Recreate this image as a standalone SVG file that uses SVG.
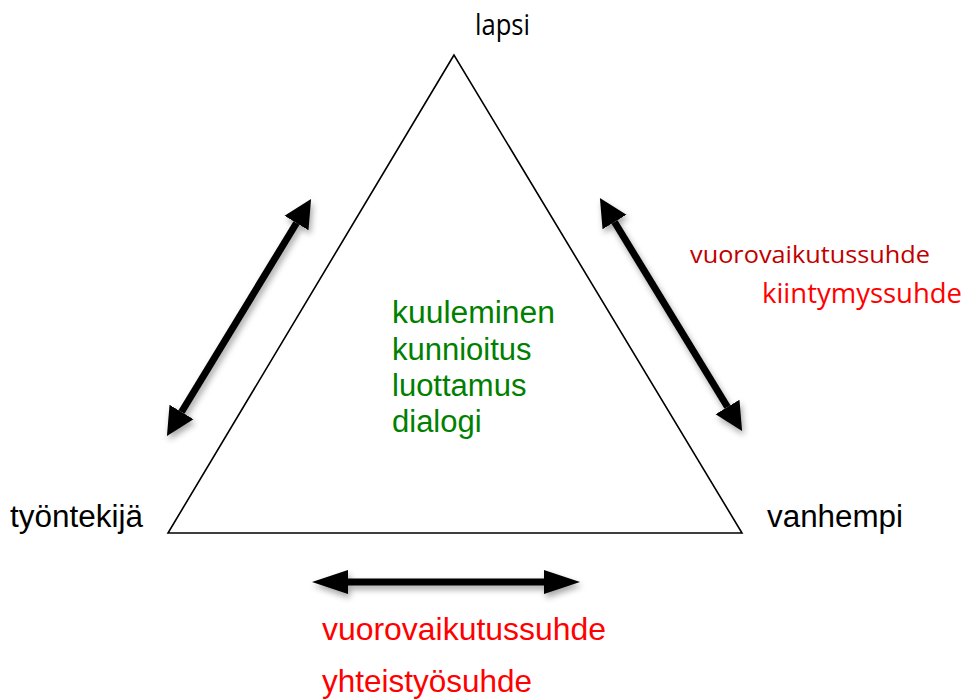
<svg xmlns="http://www.w3.org/2000/svg" width="964" height="700" viewBox="0 0 964 700">
<style>
.lbl{font-family:"Liberation Sans",Arial,sans-serif;font-size:31px;fill:#000}
.cal{font-family:"Open Sans","Liberation Sans",sans-serif}
.green{font-family:"Liberation Sans",Arial,sans-serif;font-size:31px;fill:#008000}
.red{font-family:"Liberation Sans",Arial,sans-serif;font-size:32px;fill:#ff0000}
.arr{stroke:#000;stroke-width:7;fill:none}
</style>
<defs>
<filter id="sh" x="-30%" y="-30%" width="160%" height="160%">
<feDropShadow dx="2" dy="4" stdDeviation="3" flood-color="#000" flood-opacity="0.35"/>
</filter>
<marker id="hd" markerUnits="userSpaceOnUse" markerWidth="40" markerHeight="40" viewBox="0 -20 40 40" refX="0" refY="0" orient="auto-start-reverse">
<path d="M0,-14 L28,0 L0,14 z" fill="#000"/>
</marker>
<marker id="hh" markerUnits="userSpaceOnUse" markerWidth="44" markerHeight="40" viewBox="0 -20 44 40" refX="0" refY="0" orient="auto-start-reverse">
<path d="M0,-12 L36,0 L0,12 z" fill="#000"/>
</marker>
</defs>
<g id="triangle">
<polygon points="454,55 168,533 742,533" fill="none" stroke="#000" stroke-width="1.6"/>
</g>
<g id="connectors" filter="url(#sh)">
<line class="arr" x1="181.5" y1="412" x2="296.5" y2="223" marker-start="url(#hd)" marker-end="url(#hd)"/>
<line class="arr" x1="614.5" y1="222" x2="727.5" y2="407" marker-start="url(#hd)" marker-end="url(#hd)"/>
<line class="arr" x1="348" y1="582" x2="544" y2="582" stroke-width="8" marker-start="url(#hh)" marker-end="url(#hh)"/>
</g>
<g id="lapsi"><text class="cal" x="475" y="35" font-size="29" textLength="55" lengthAdjust="spacingAndGlyphs">lapsi</text></g>
<g id="tyontekija"><text class="lbl" x="10" y="527" textLength="133" lengthAdjust="spacingAndGlyphs">työntekijä</text></g>
<g id="vanhempi"><text class="lbl" x="767" y="527" textLength="136" lengthAdjust="spacingAndGlyphs">vanhempi</text></g>
<g id="values">
<text class="green" x="392" y="323" textLength="163" lengthAdjust="spacingAndGlyphs">kuuleminen</text>
<text class="green" x="392" y="360">kunnioitus</text>
<text class="green" x="392" y="396">luottamus</text>
<text class="green" x="392" y="432">dialogi</text>
</g>
<g id="right-labels">
<text class="cal" x="690" y="263" font-size="23" fill="#c00000" textLength="240" lengthAdjust="spacingAndGlyphs">vuorovaikutussuhde</text>
<text class="cal" x="762" y="303" font-size="27" fill="#ff0000" textLength="200" lengthAdjust="spacingAndGlyphs">kiintymyssuhde</text>
</g>
<g id="bottom-labels">
<text class="red" x="322" y="640" textLength="284" lengthAdjust="spacingAndGlyphs">vuorovaikutussuhde</text>
<text class="red" x="322" y="692" textLength="210" lengthAdjust="spacingAndGlyphs">yhteistyösuhde</text>
</g>
</svg>
